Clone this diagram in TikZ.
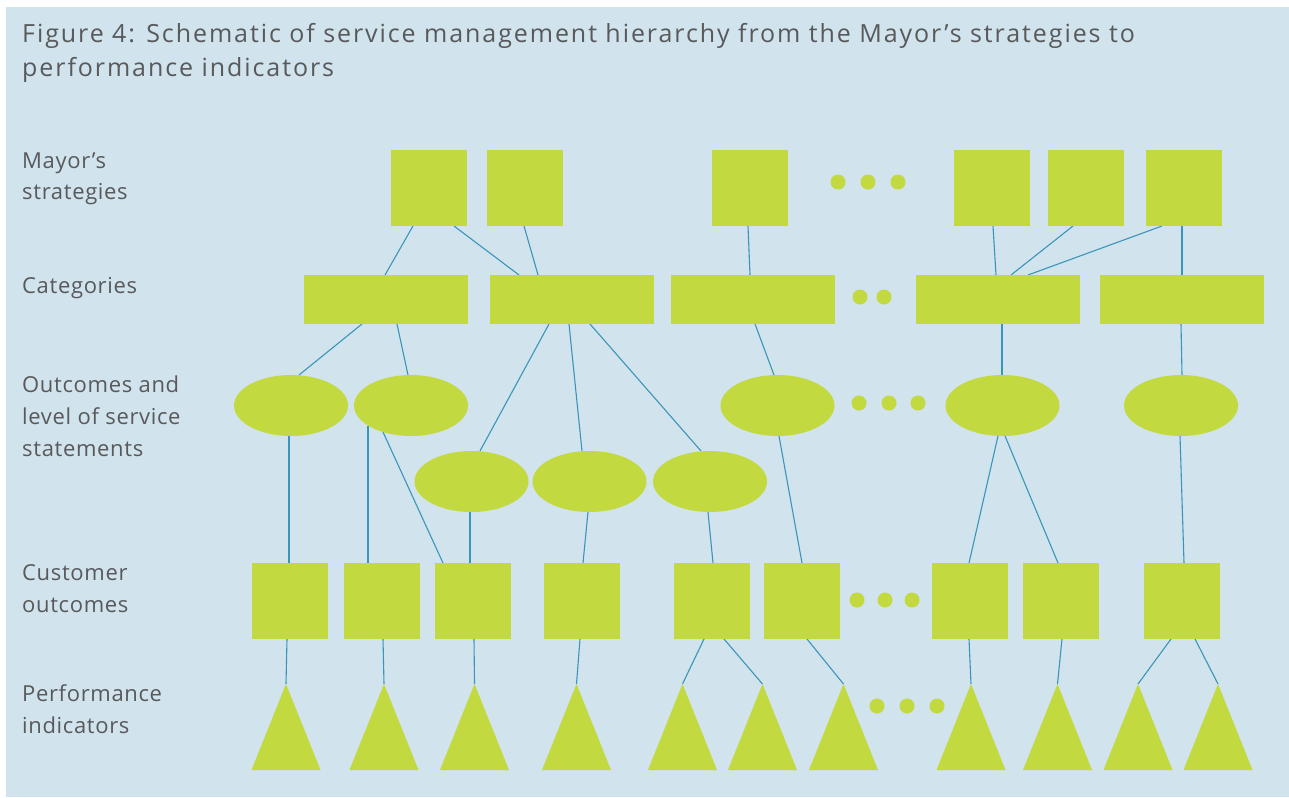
\documentclass[tikz,border=0pt]{standalone}
\usepackage{fontspec}
\setmainfont{Open Sans}
\newfontfamily\ttlfont[LetterSpace=7.7]{Open Sans}
\newfontfamily\labfont[LetterSpace=3]{Open Sans}
\usetikzlibrary{calc,shapes.geometric}
\pgfdeclarelayer{back}
\pgfdeclarelayer{bg}
\pgfsetlayers{back,bg,main}
\definecolor{leaf}{RGB}{195,217,64}
\definecolor{paper}{RGB}{209,227,236}
\definecolor{wire}{RGB}{58,150,185}
\definecolor{ink}{RGB}{88,89,91}
\tikzset{
  sqbox/.style={fill=leaf, minimum width=76pt, minimum height=76pt, inner sep=0pt, outer sep=0pt},
  catbox/.style={fill=leaf, minimum width=164pt, minimum height=49pt, inner sep=0pt, outer sep=0pt},
  oval/.style={ellipse, fill=leaf, minimum width=114pt, minimum height=61pt, inner sep=0pt, outer sep=0pt},
  link/.style={draw=wire, line width=1.1pt},
  lab/.style={anchor=base west, inner sep=0pt, text=ink, font=\labfont\fontsize{22}{24}\selectfont},
  ttl/.style={anchor=base west, inner sep=0pt, text=ink, font=\ttlfont\fontsize{25}{28}\selectfont},
  tri/.style={fill=leaf},
  dot/.style={fill=leaf}
}
\begin{document}
\begin{tikzpicture}[x=1pt,y=-1pt]
\useasboundingbox (0,0) rectangle (1289,797);
\begin{pgfonlayer}{back}
\fill[white] (0,0) rectangle (1289,797);
\fill[paper] (6,7) rectangle (1289,797);
\end{pgfonlayer}

% title
\node[ttl] (title1) at (22,43) {Figure 4: Schematic of service management hierarchy from the Mayor’s strategies to};
\node[ttl] (title2) at (22,77) {performance indicators};

% row labels
\node[lab] (l1a) at (22,168) {Mayor’s};
\node[lab] (l1b) at (22,199) {strategies};
\node[lab] (l2) at (22,293) {Categories};
\node[lab] (l3a) at (22,392) {Outcomes and};
\node[lab] (l3b) at (22,424) {level of service};
\node[lab] (l3c) at (22,456) {statements};
\node[lab] (l4a) at (22,580) {Customer};
\node[lab] (l4b) at (22,612) {outcomes};
\node[lab] (l5a) at (22,701) {Performance};
\node[lab] (l5b) at (22,733) {indicators};

% Mayor's strategies
\node[sqbox] (M1) at (429,188) {};
\node[sqbox] (M2) at (525,188) {};
\node[sqbox] (M3) at (750,188) {};
\node[sqbox] (M4) at (992,188) {};
\node[sqbox] (M5) at (1086,188) {};
\node[sqbox] (M6) at (1184,188) {};
\foreach \x in {838,868,898} \fill[dot] (\x,182) circle[radius=7.5pt];

% Categories
\node[catbox] (K1) at (386,299.5) {};
\node[catbox] (K2) at (572,299.5) {};
\node[catbox] (K3) at (753,299.5) {};
\node[catbox] (K4) at (998,299.5) {};
\node[catbox] (K5) at (1182,299.5) {};
\foreach \x in {860,884} \fill[dot] (\x,297) circle[radius=7.5pt];

% Outcomes
\node[oval] (E1) at (291,405.5) {};
\node[oval] (E2) at (411,405.5) {};
\node[oval] (E6) at (777.5,405.5) {};
\node[oval] (E7) at (1002.5,405.5) {};
\node[oval] (E8) at (1181,405.5) {};
\node[oval] (E3) at (471.5,481.5) {};
\node[oval] (E4) at (589.5,481.5) {};
\node[oval] (E5) at (710,481.5) {};
\foreach \x in {859,889,918} \fill[dot] (\x,403) circle[radius=7.5pt];

% Customer outcomes
\node[sqbox] (C1) at (290,601) {};
\node[sqbox] (C2) at (382,601) {};
\node[sqbox] (C3) at (473,601) {};
\node[sqbox] (C4) at (582,601) {};
\node[sqbox] (C5) at (712,601) {};
\node[sqbox] (C6) at (802,601) {};
\node[sqbox] (C7) at (970,601) {};
\node[sqbox] (C8) at (1061,601) {};
\node[sqbox] (C9) at (1182,601) {};
\foreach \x in {857,885,912} \fill[dot] (\x,600) circle[radius=7.5pt];

% Performance indicators (apex coordinates)
\coordinate (T1) at (286,684);
\coordinate (T2) at (384,684);
\coordinate (T3) at (474.5,684);
\coordinate (T4) at (576.5,684);
\coordinate (T5) at (682.5,684);
\coordinate (T6) at (762.5,684);
\coordinate (T7) at (843.5,684);
\coordinate (T8) at (971,684);
\coordinate (T9) at (1057.5,684);
\coordinate (T10) at (1138,684);
\coordinate (T11) at (1218,684);
\foreach \t in {T1,T2,T3,T4,T5,T6,T7,T8,T9,T10,T11}
  \fill[tri] (\t) -- ($(\t)+(34.5,86)$) -- ($(\t)+(-34.5,86)$) -- cycle;
\foreach \x in {877,907,937} \fill[dot] (\x,706) circle[radius=7.5pt];

% connectors
\begin{pgfonlayer}{bg}
\draw[link] ($(M1.south)+(-16,0)$) -- ($(K1.north)+(-1,0)$);
\draw[link] ($(M1.south)+(25,0)$) -- ($(K2.north)+(-53,0)$);
\draw[link] ($(M2.south)+(-1,0)$) -- ($(K2.north)+(-34,0)$);
\draw[link] ($(M3.south)+(-2,0)$) -- ($(K3.north)+(-3,0)$);
\draw[link] ($(M4.south)+(1,0)$) -- ($(K4.north)+(-2,0)$);
\draw[link] ($(M5.south)+(-13,0)$) -- ($(K4.north)+(13,0)$);
\draw[link] ($(M6.south)+(-22,0)$) -- ($(K4.north)+(30,0)$);
\draw[link] ($(M6.south)+(-2,0)$) -- ($(K5.north)+(0,0)$);

\draw[link] ($(K1.south)+(-24,0)$) -- ($(E1.north)+(8,0)$);
\draw[link] ($(K1.south)+(11,0)$) -- ($(E2.north)+(-3,0)$);
\draw[link] ($(K2.south)+(-23,0)$) -- ($(E3.north)+(8.5,0)$);
\draw[link] ($(K2.south)+(-3,0)$) -- ($(E4.north)+(-7.5,0)$);
\draw[link] ($(K2.south)+(18,0)$) -- ($(E5.north)+(-9,0)$);
\draw[link] ($(K3.south)+(2,0)$) -- ($(E6.north)+(-3.5,0)$);
\draw[link] ($(K4.south)+(4,0)$) -- ($(E7.north)+(-0.5,0)$);
\draw[link] ($(K5.south)+(-1,0)$) -- ($(E8.north)+(1,0)$);

\draw[link] ($(E1.south)+(-2,0)$) -- ($(C1.north)+(-1,0)$);
\draw[link] ($(E2.center)+(-43,20)$) -- ($(C2.north)+(-14,0)$);
\draw[link] ($(E2.center)+(-28,26.5)$) -- ($(C3.north)+(-30,0)$);
\draw[link] ($(E3.south)+(-1.5,0)$) -- ($(C3.north)+(-3,0)$);
\draw[link] ($(E4.south)+(-1.5,0)$) -- ($(C4.north)+(1,0)$);
\draw[link] ($(E5.south)+(-2,0)$) -- ($(C5.north)+(1,0)$);
\draw[link] ($(E6.south)+(1.5,0)$) -- ($(C6.north)+(0,0)$);
\draw[link] ($(E7.south)+(-4.5,0)$) -- ($(C7.north)+(-1,0)$);
\draw[link] ($(E7.south)+(2.5,0)$) -- ($(C8.north)+(-3,0)$);
\draw[link] ($(E8.south)+(-1,0)$) -- ($(C9.north)+(2,0)$);

\draw[link] ($(C1.south)+(-3,0)$) -- (T1);
\draw[link] ($(C2.south)+(1,0)$) -- (T2);
\draw[link] ($(C3.south)+(1,0)$) -- (T3);
\draw[link] ($(C4.south)+(-2,0)$) -- (T4);
\draw[link] ($(C5.south)+(-8,0)$) -- (T5);
\draw[link] ($(C5.south)+(12,0)$) -- (T6);
\draw[link] ($(C6.south)+(5,0)$) -- (T7);
\draw[link] ($(C7.south)+(-1,0)$) -- (T8);
\draw[link] ($(C8.south)+(1,0)$) -- (T9);
\draw[link] ($(C9.south)+(-11,0)$) -- (T10);
\draw[link] ($(C9.south)+(13,0)$) -- (T11);
\end{pgfonlayer}
\end{tikzpicture}
\end{document}
